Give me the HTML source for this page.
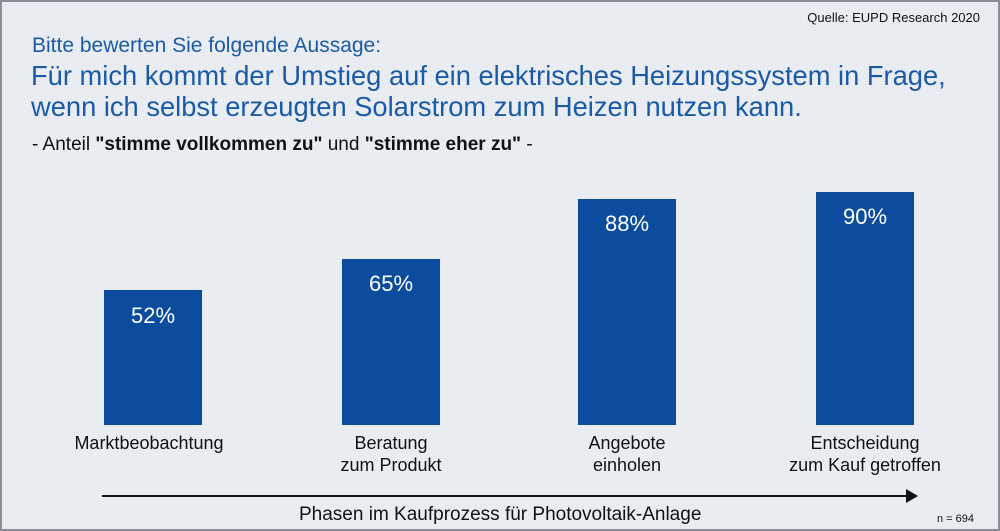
<!DOCTYPE html>
<html><head><style>
body{margin:0}
#c{position:relative;width:996px;height:527px;border:2px solid #8a8f96;background:#e9edf2;font-family:"Liberation Sans",sans-serif;overflow:hidden}
.t{position:absolute;white-space:nowrap}
.b{position:absolute;background:#0b4c9e;width:98px;bottom:104px}
.v{position:absolute;color:#fff;font-size:22px;width:98px;text-align:center}
.l{position:absolute;width:260px;text-align:center;font-size:18px;line-height:22px;color:#111}
</style></head><body><div id="c">
<div class="t" style="right:18px;top:8px;font-size:13px;color:#111">Quelle: EUPD Research 2020</div>
<div class="t" style="left:30px;top:32px;font-size:21px;color:#1a5aa6">Bitte bewerten Sie folgende Aussage:</div>
<div class="t" style="left:29px;top:58px;font-size:27.3px;line-height:31px;color:#1a5aa6">Für mich kommt der Umstieg auf ein elektrisches Heizungssystem in Frage,<br>wenn ich selbst erzeugten Solarstrom zum Heizen nutzen kann.</div>
<div class="t" style="left:30px;top:132px;font-size:19px;color:#111">- Anteil <b>"stimme vollkommen zu"</b> und <b>"stimme eher zu"</b> -</div>
<div class="b" style="left:102px;height:135px"><div class="v" style="top:13px">52%</div></div>
<div class="b" style="left:340px;height:166px"><div class="v" style="top:12px">65%</div></div>
<div class="b" style="left:576px;height:226px"><div class="v" style="top:12px">88%</div></div>
<div class="b" style="left:814px;height:233px"><div class="v" style="top:12px">90%</div></div>
<div class="l" style="left:17px;top:430px">Marktbeobachtung</div>
<div class="l" style="left:259px;top:430px">Beratung<br>zum Produkt</div>
<div class="l" style="left:495px;top:430px">Angebote<br>einholen</div>
<div class="l" style="left:733px;top:430px">Entscheidung<br>zum Kauf getroffen</div>
<div style="position:absolute;left:100px;top:493px;width:806px;height:2px;background:#111"></div>
<div style="position:absolute;left:904px;top:487px;border-left:12px solid #111;border-top:7px solid transparent;border-bottom:7px solid transparent"></div>
<div class="t" style="left:297px;top:502px;font-size:19px;color:#111">Phasen im Kaufprozess für Photovoltaik-Anlage</div>
<div class="t" style="left:935px;top:511px;font-size:11px;color:#111">n = 694</div>
</div></body></html>
